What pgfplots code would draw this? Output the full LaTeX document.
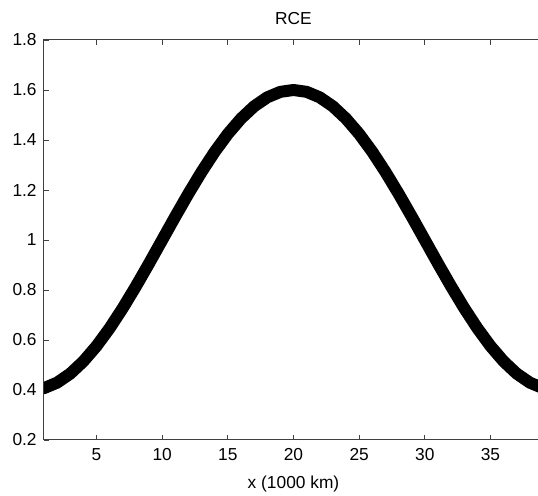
\documentclass[border=0pt]{standalone}
\usepackage{fontspec}
\setmainfont{Liberation Sans}
\usepackage{pgfplots}
\pgfplotsset{compat=1.18}
\begin{document}
\fontsize{13}{15}\selectfont
\begin{tikzpicture}
\begin{axis}[
  scale only axis,
  width=374.25pt,
  height=300pt,
  xmin=1, xmax=39, ymin=0.2, ymax=1.8,
  xtick={5,10,15,20,25,30,35},
  ytick={0.2,0.4,0.6,0.8,1,1.2,1.4,1.6,1.8},
  /pgf/number format/assume math mode=true,
  tick label style={font=\fontsize{13}{15}\selectfont},
  label style={font=\fontsize{13}{15}\selectfont},
  title style={font=\fontsize{13}{15}\selectfont, yshift=1pt},
  xticklabel style={yshift=-2pt},
  yticklabel style={xshift=-1pt},
  xlabel style={yshift=-2pt},
  major tick length=3.75pt,
  tick style={black!75, line width=0.6pt},
  axis line style={black!75, line width=0.75pt},
  title={RCE},
  xlabel={x (1000 km)},
  clip=true,
]
\addplot[black, line width=9pt, line join=round] coordinates {
(0,0.4000) (1,0.4074) (2,0.4294) (3,0.4654) (4,0.5146) (5,0.5757)
(6,0.6473) (7,0.7276) (8,0.8146) (9,0.9061) (10,1.0000)
(11,1.0939) (12,1.1854) (13,1.2724) (14,1.3527) (15,1.4243)
(16,1.4854) (17,1.5346) (18,1.5706) (19,1.5926) (20,1.6000)
(21,1.5926) (22,1.5706) (23,1.5346) (24,1.4854) (25,1.4243)
(26,1.3527) (27,1.2724) (28,1.1854) (29,1.0939) (30,1.0000)
(31,0.9061) (32,0.8146) (33,0.7276) (34,0.6473) (35,0.5757)
(36,0.5146) (37,0.4654) (38,0.4294) (39,0.4074) (40,0.4000)
};
\coordinate (bl) at (axis cs:1,0.2);
\coordinate (tr) at (axis cs:38.62,1.8);
\end{axis}
\pgfresetboundingbox
\path[use as bounding box] ([xshift=-33pt,yshift=-42pt]bl) rectangle ([yshift=30pt]tr);
\end{tikzpicture}
\end{document}
